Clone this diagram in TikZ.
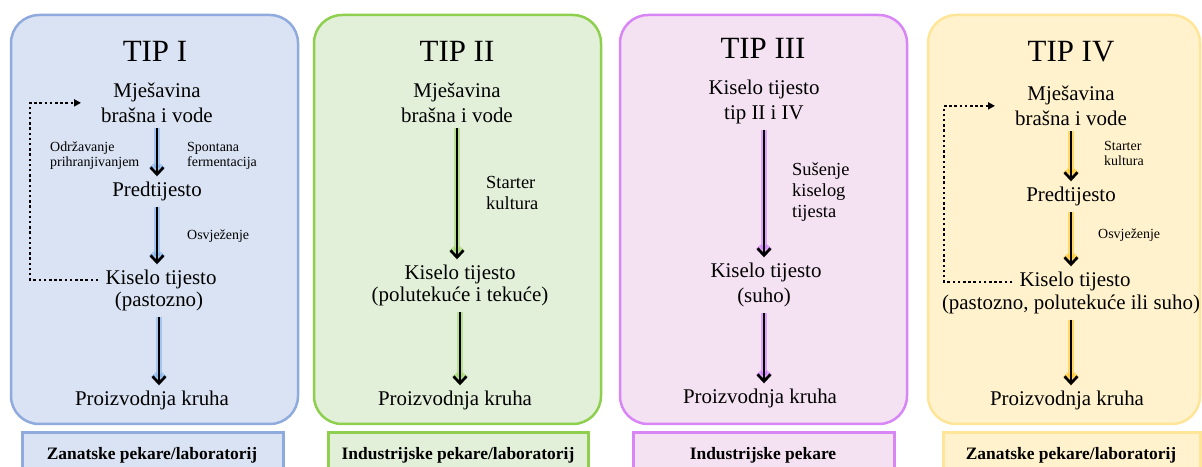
\documentclass[tikz,border=0pt]{standalone}
\usepackage{fontspec}
\setmainfont{Liberation Serif}
\usetikzlibrary{arrows.meta}

\definecolor{plavaR}{HTML}{8FAADC}
\definecolor{plavaP}{HTML}{DAE3F3}
\definecolor{plavaS}{HTML}{6FA8E8}
\definecolor{zelenaR}{HTML}{8ED04E}
\definecolor{zelenaP}{HTML}{E2F0D9}
\definecolor{zelenaS}{HTML}{92D050}
\definecolor{ljubR}{HTML}{D886F6}
\definecolor{ljubP}{HTML}{F4E1F2}
\definecolor{ljubS}{HTML}{CC66FF}
\definecolor{zutaR}{HTML}{FFE597}
\definecolor{zutaP}{HTML}{FFF2CC}
\definecolor{zutaS}{HTML}{FFC000}

\tikzset{
	okvir/.style={draw=#1R, fill=#1P, line width=2.5bp, rounded corners=28bp},
	natpis/.style={draw=#1R, fill=#1P, line width=3bp},
	naslov/.style={anchor=base, inner sep=0pt, font=\fontsize{31}{36}\selectfont},
	faza/.style={anchor=base, inner sep=0pt, align=center, font=\fontsize{21}{26}\selectfont},
	opis/.style={anchor=base west, inner sep=0pt, align=left, font=\fontsize{14}{16}\selectfont},
	opisv/.style={anchor=base west, inner sep=0pt, align=left, font=\fontsize{18.5}{21.5}\selectfont},
	oznaka/.style={anchor=base, inner sep=0pt, font=\fontsize{17.5}{20}\selectfont\bfseries},
	tok/.style={line width=2.7bp, -{Straight Barb[length=7bp, width=13bp]}, shorten <=5bp, shorten >=6bp,
		preaction={draw=#1S, line width=6.5bp, opacity=0.5, -{Straight Barb[length=6bp, width=11bp]}}},
	petlja/.style={line width=2.5bp, dash pattern=on 2.5bp off 2.7bp, -{Triangle[length=7bp, width=7bp]}, shorten <=7bp, shorten >=20bp}
}

\begin{document}
\begin{tikzpicture}[x=1bp, y=-1bp]
	\useasboundingbox (0,0) rectangle (1202,467);
	\clip (0,0) rectangle (1202,467);
	% Okviri
		\draw[okvir=plava] (11,15) rectangle (298,424);
		\draw[okvir=zelena] (314,15) rectangle (601,424);
		\draw[okvir=ljub] (620,15) rectangle (907,424);
		\draw[okvir=zuta] (928,15) rectangle (1200,424);
	% Natpisi ispod okvira
		\draw[natpis=plava] (22,433) rectangle (283,490);
		\draw[natpis=zelena] (328,433) rectangle (588,490);
		\draw[natpis=ljub] (633,433) rectangle (894,490);
		\draw[natpis=zuta] (943,433) rectangle (1200,490);
	% TIP I
		\node[naslov] (tip1) at (155,62) {TIP I};
		\node[faza] (mix1) at (157,123) {Mješavina\\brašna i vode};
		\node[faza] (pre1) at (157,197) {Predtijesto};
		\node[faza] (kis1) at (161,285) {Kiselo tijesto};
		\node[faza] (kis1b) at (159,307) {(pastozno)};
		\node[faza] (pro1) at (152,406) {Proizvodnja kruha};
		\node[opis] (odr1) at (50,167) {Održavanje\\prihranjivanjem};
		\node[opis] (spo1) at (187,167) {Spontana\\fermentacija};
		\node[opis] (osv1) at (187,240) {Osvježenje};
		\node[oznaka] (zan1) at (152,460) {Zanatske pekare/laboratorij};
		\coordinate (pet1) at (30,103);
		\draw[tok=plava] (mix1.south) -- (mix1.south |- pre1.north);
		\draw[tok=plava] (pre1.south) -- (pre1.south |- kis1.north);
		\draw[tok=plava] (kis1b.south) -- (kis1b.south |- pro1.north);
		\draw[petlja] (kis1.west) -| (pet1) |- (mix1.west);
	% TIP II
		\node[naslov] (tip2) at (457,62) {TIP II};
		\node[faza] (mix2) at (457,123) {Mješavina\\brašna i vode};
		\node[faza] (kis2) at (460,280) {Kiselo tijesto};
		\node[faza] (kis2b) at (460,302) {(polutekuće i tekuće)};
		\node[faza] (pro2) at (455,406) {Proizvodnja kruha};
		\node[opisv] (sta2) at (486,210) {Starter\\kultura};
		\node[oznaka] (ind2) at (458,460) {Industrijske pekare/laboratorij};
		\draw[tok=zelena] (mix2.south) -- (mix2.south |- kis2.north);
		\draw[tok=zelena] (kis2b.south) -- (kis2b.south |- pro2.north);
	% TIP III
		\node[naslov] (tip3) at (763,59) {TIP III};
		\node[faza] (kis3a) at (764,120) {Kiselo tijesto\\tip II i IV};
		\node[faza] (kis3) at (766,278) {Kiselo tijesto};
		\node[faza] (kis3b) at (764,303) {(suho)};
		\node[faza] (pro3) at (760,404) {Proizvodnja kruha};
		\node[opisv] (sus3) at (792,218) {Sušenje\\kiselog\\tijesta};
		\node[oznaka] (ind3) at (763,460) {Industrijske pekare};
		\draw[tok=ljub] (kis3a.south) -- (kis3a.south |- kis3.north);
		\draw[tok=ljub] (kis3b.south) -- (kis3b.south |- pro3.north);
	% TIP IV
		\node[naslov] (tip4) at (1071,62) {TIP IV};
		\node[faza] (mix4) at (1071,126) {Mješavina\\brašna i vode};
		\node[faza] (pre4) at (1071,202) {Predtijesto};
		\node[faza] (kis4) at (1075,287) {Kiselo tijesto};
		\node[faza] (kis4b) at (1071,310) {(pastozno, polutekuće ili suho)};
		\node[faza] (pro4) at (1067,406) {Proizvodnja kruha};
		\node[opis] (sta4) at (1104,166) {Starter\\kultura};
		\node[opis] (osv4) at (1098,239) {Osvježenje};
		\node[oznaka] (zan4) at (1071,460) {Zanatske pekare/laboratorij};
		\coordinate (pet4) at (944,106);
		\draw[tok=zuta] (mix4.south) -- (mix4.south |- pre4.north);
		\draw[tok=zuta] (pre4.south) -- (pre4.south |- kis4.north);
		\draw[tok=zuta] (kis4b.south) -- (kis4b.south |- pro4.north);
		\draw[petlja] (kis4.west) -| (pet4) |- (mix4.west);
\end{tikzpicture}
\end{document}
